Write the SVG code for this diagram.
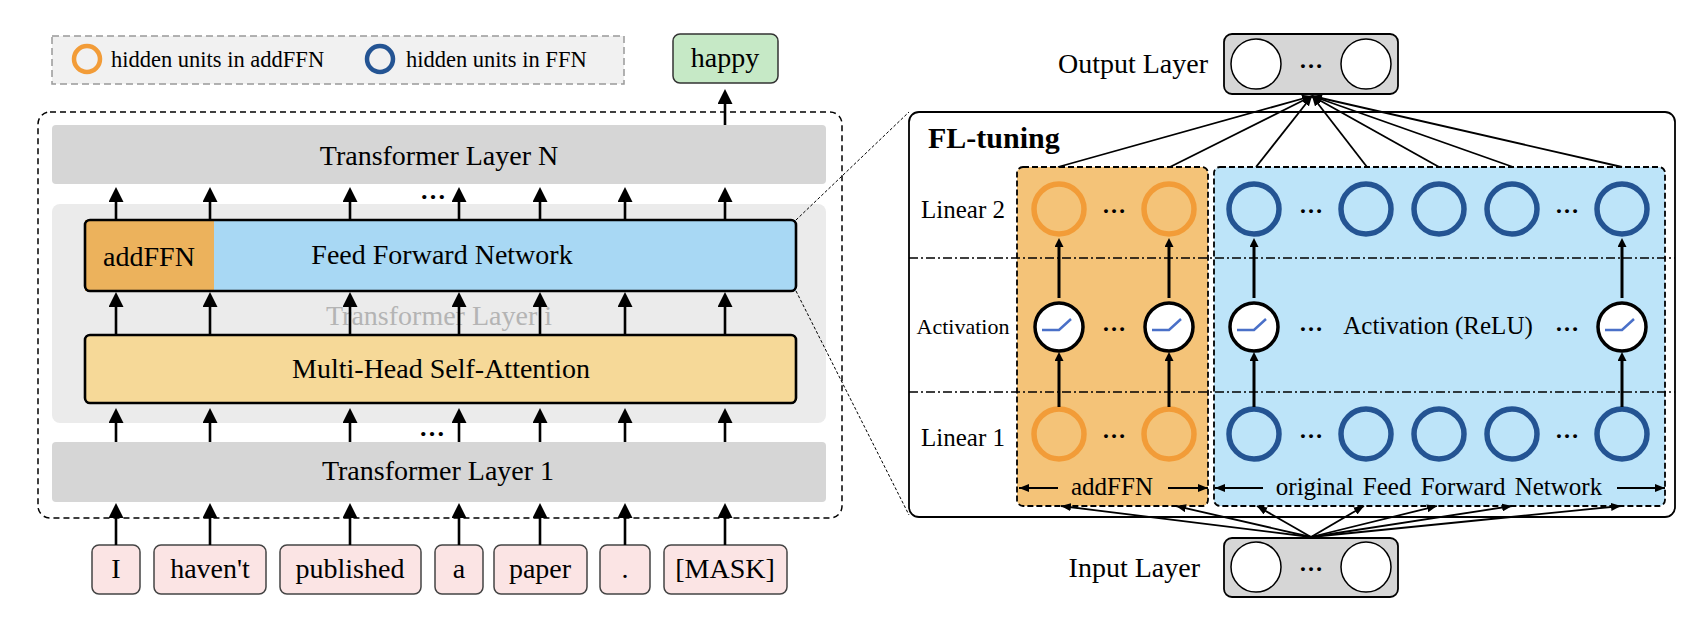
<svg xmlns="http://www.w3.org/2000/svg" width="1704" height="630" viewBox="0 0 1704 630">
<style>
text{font-family:"Liberation Serif","Times New Roman",serif;fill:#000}
.t28{font-size:28px}
.t25{font-size:25px}
.mid{text-anchor:middle}
.big{stroke:#000;stroke-width:2.6;fill:none;marker-end:url(#bigHead)}
.sm{stroke:#000;stroke-width:3;fill:none;marker-end:url(#smHead)}
.fan{stroke:#000;stroke-width:1.8;fill:none;marker-end:url(#fanHead)}
.lay{fill:#d6d6d6}
.tok{fill:#fbe4e4;stroke:#444;stroke-width:1.5}
.ocirc{fill:none;stroke:#f29c38;stroke-width:5.5}
.bcirc{fill:none;stroke:#245493;stroke-width:5.5}
.act{fill:#fff;stroke:#000;stroke-width:3.5}
.relu{fill:none;stroke:#4a70c8;stroke-width:2.5}
.node{fill:#fff;stroke:#000;stroke-width:1.5}
.dots{font-size:24px;font-weight:bold;text-anchor:middle}
.dd{stroke:#000;stroke-width:1.6;stroke-dasharray:9 3 2 3;fill:none}
</style>
<defs>
<marker id="bigHead" viewBox="0 0 15 15" refX="0" refY="7.5" markerWidth="15" markerHeight="15" markerUnits="userSpaceOnUse" orient="auto"><path d="M0,0 L15,7.5 L0,15 Z" fill="#000"/></marker>
<marker id="smHead" viewBox="0 0 9 9" refX="0" refY="4.5" markerWidth="9" markerHeight="9" markerUnits="userSpaceOnUse" orient="auto"><path d="M0,0 L9,4.5 L0,9 Z" fill="#000"/></marker>
<marker id="fanHead" viewBox="0 0 10 8" refX="10" refY="4" markerWidth="10" markerHeight="8" markerUnits="userSpaceOnUse" orient="auto"><path d="M0,0 L10,4 L0,8 Z" fill="#000"/></marker>
</defs>

<g id="legend">
<rect x="52" y="36" width="572" height="48" fill="#f1f1f1" stroke="#999" stroke-width="1.5" stroke-dasharray="7 4"/>
<circle cx="87" cy="59" r="13" fill="none" stroke="#f29c38" stroke-width="4.5"/>
<text x="111" y="67" style="font-size:22.5px">hidden units in addFFN</text>
<circle cx="380" cy="59" r="13" fill="none" stroke="#245493" stroke-width="4.5"/>
<text x="406" y="67" style="font-size:22.5px">hidden units in FFN</text>
</g>

<g id="happy">
<rect x="673" y="34" width="105" height="49" rx="7" fill="#c6e9c6" stroke="#333" stroke-width="1.5"/>
<text class="t28 mid" x="725" y="67">happy</text>
</g>

<g id="stack">
<rect x="38" y="112" width="804" height="406" rx="12" fill="none" stroke="#000" stroke-width="1.5" stroke-dasharray="6 4"/>
</g>
<g id="layerN">
<rect class="lay" x="52" y="125" width="774" height="59" rx="4"/>
<text class="t28 mid" x="439" y="165">Transformer Layer N</text>
</g>
<g id="layerI">
<rect x="52" y="204" width="774" height="219" rx="8" fill="#ebebeb"/>
<text class="t28 mid" x="439" y="325" style="fill:#b4b4b4">Transformer Layer i</text>
</g>
<g id="ffn">
<rect x="85" y="220" width="129" height="71" fill="#ecb25c"/>
<rect x="214" y="220" width="582" height="71" fill="#a8d8f4"/>
<rect x="85" y="220" width="711" height="71" rx="5" fill="none" stroke="#000" stroke-width="2.6"/>
<text class="t28 mid" x="149" y="266">addFFN</text>
<text class="t28 mid" x="442" y="264">Feed Forward Network</text>
</g>
<g id="mhsa">
<rect x="85" y="335" width="711" height="68" rx="5" fill="#f6d998" stroke="#000" stroke-width="2.6"/>
<text class="t28 mid" x="441" y="378">Multi-Head Self-Attention</text>
</g>
<g id="layer1">
<rect class="lay" x="52" y="442" width="774" height="60" rx="4"/>
<text class="t28 mid" x="438" y="480">Transformer Layer 1</text>
</g>

<g id="tokens">
<rect class="tok" x="92" y="545" width="48" height="49" rx="7"/><text class="t28 mid" x="116" y="578">I</text>
<rect class="tok" x="154" y="545" width="112" height="49" rx="7"/><text class="t28 mid" x="210" y="578">haven't</text>
<rect class="tok" x="280" y="545" width="141" height="49" rx="7"/><text class="t28 mid" x="350" y="578">published</text>
<rect class="tok" x="435" y="545" width="48" height="49" rx="7"/><text class="t28 mid" x="459" y="578">a</text>
<rect class="tok" x="494" y="545" width="93" height="49" rx="7"/><text class="t28 mid" x="540" y="578">paper</text>
<rect class="tok" x="600" y="545" width="50" height="49" rx="7"/><text class="t28 mid" x="625" y="578">.</text>
<rect class="tok" x="664" y="545" width="123" height="49" rx="7"/><text class="t28 mid" x="725" y="578">[MASK]</text>
</g>

<g id="connectors-left">
<line class="big" x1="116" y1="545" x2="116" y2="518"/><line class="big" x1="210" y1="545" x2="210" y2="518"/><line class="big" x1="350" y1="545" x2="350" y2="518"/><line class="big" x1="459" y1="545" x2="459" y2="518"/><line class="big" x1="540" y1="545" x2="540" y2="518"/><line class="big" x1="625" y1="545" x2="625" y2="518"/><line class="big" x1="725" y1="545" x2="725" y2="518"/>
<line class="big" x1="116" y1="442" x2="116" y2="423"/><line class="big" x1="210" y1="442" x2="210" y2="423"/><line class="big" x1="350" y1="442" x2="350" y2="423"/><line class="big" x1="459" y1="442" x2="459" y2="423"/><line class="big" x1="540" y1="442" x2="540" y2="423"/><line class="big" x1="625" y1="442" x2="625" y2="423"/><line class="big" x1="725" y1="442" x2="725" y2="423"/>
<line class="big" x1="116" y1="335" x2="116" y2="307"/><line class="big" x1="210" y1="335" x2="210" y2="307"/><line class="big" x1="350" y1="335" x2="350" y2="307"/><line class="big" x1="459" y1="335" x2="459" y2="307"/><line class="big" x1="540" y1="335" x2="540" y2="307"/><line class="big" x1="625" y1="335" x2="625" y2="307"/><line class="big" x1="725" y1="335" x2="725" y2="307"/>
<line class="big" x1="116" y1="219" x2="116" y2="202"/><line class="big" x1="210" y1="219" x2="210" y2="202"/><line class="big" x1="350" y1="219" x2="350" y2="202"/><line class="big" x1="459" y1="219" x2="459" y2="202"/><line class="big" x1="540" y1="219" x2="540" y2="202"/><line class="big" x1="625" y1="219" x2="625" y2="202"/><line class="big" x1="725" y1="219" x2="725" y2="202"/>
<line class="big" x1="725" y1="125" x2="725" y2="104"/>
<text class="dots" x="433" y="199" style="font-size:26px">…</text>
<text class="dots" x="432" y="436" style="font-size:26px">…</text>
<path d="M796,220L909,112M796,291L909,515" stroke="#000" stroke-width="1" stroke-dasharray="3 2" fill="none"/>
</g>

<g id="fl-tuning">
<rect x="909" y="112" width="766" height="405" rx="10" fill="#fff" stroke="#000" stroke-width="1.8"/>
<text x="928" y="148" style="font-size:30px;font-weight:bold">FL-tuning</text>
<text class="t25 mid" x="963" y="218">Linear 2</text>
<text class="mid" x="963" y="334" style="font-size:22px">Activation</text>
<text class="t25 mid" x="963" y="446">Linear 1</text>
</g>
<g id="addffn-region">
<rect x="1017" y="167" width="191" height="339" rx="6" fill="#f4c378" stroke="#000" stroke-width="1.8" stroke-dasharray="6 3"/>
</g>
<g id="ffn-region">
<rect x="1214" y="167" width="451" height="339" rx="6" fill="#bde4f9" stroke="#000" stroke-width="1.8" stroke-dasharray="6 3"/>
</g>
<g id="row-separators">
<path class="dd" d="M909,258H1675M909,392H1675"/>
</g>

<g id="linear2">
<circle class="ocirc" cx="1059" cy="209" r="25"/>
<circle class="ocirc" cx="1169" cy="209" r="25"/>
<circle class="bcirc" cx="1254" cy="209" r="25"/>
<circle class="bcirc" cx="1366" cy="209" r="25"/>
<circle class="bcirc" cx="1439" cy="209" r="25"/>
<circle class="bcirc" cx="1512" cy="209" r="25"/>
<circle class="bcirc" cx="1622" cy="209" r="25"/>
<text class="dots" x="1114" y="213">…</text>
<text class="dots" x="1311" y="213">…</text>
<text class="dots" x="1567" y="213">…</text>
</g>
<g id="activation">
<circle class="act" cx="1059" cy="327" r="24"/><path class="relu" d="M1042,330H1059L1071,319"/>
<circle class="act" cx="1169" cy="327" r="24"/><path class="relu" d="M1152,330H1169L1181,319"/>
<circle class="act" cx="1254" cy="327" r="24"/><path class="relu" d="M1237,330H1254L1266,319"/>
<circle class="act" cx="1622" cy="327" r="24"/><path class="relu" d="M1605,330H1622L1634,319"/>
<text class="dots" x="1114" y="331">…</text>
<text class="dots" x="1311" y="331">…</text>
<text class="dots" x="1567" y="331">…</text>
<text class="t25 mid" x="1438" y="334">Activation (ReLU)</text>
</g>
<g id="linear1">
<circle class="ocirc" cx="1059" cy="434" r="25"/>
<circle class="ocirc" cx="1169" cy="434" r="25"/>
<circle class="bcirc" cx="1254" cy="434" r="25"/>
<circle class="bcirc" cx="1366" cy="434" r="25"/>
<circle class="bcirc" cx="1439" cy="434" r="25"/>
<circle class="bcirc" cx="1512" cy="434" r="25"/>
<circle class="bcirc" cx="1622" cy="434" r="25"/>
<text class="dots" x="1114" y="438">…</text>
<text class="dots" x="1311" y="438">…</text>
<text class="dots" x="1567" y="438">…</text>
</g>
<g id="region-labels">
<text class="t25 mid" x="1112" y="495">addFFN</text>
<text class="t25 mid" x="1439" y="495" style="word-spacing:3px">original Feed Forward Network</text>
</g>

<g id="output-layer">
<text class="t28" x="1208" y="73" style="text-anchor:end">Output Layer</text>
<rect x="1224" y="34" width="174" height="60" rx="8" fill="#d6d6d6" stroke="#000" stroke-width="1.8"/>
<circle class="node" cx="1256" cy="64" r="25"/>
<circle class="node" cx="1366" cy="64" r="25"/>
<text class="dots" x="1311" y="68">…</text>
</g>
<g id="input-layer">
<text class="t28" x="1200" y="577" style="text-anchor:end">Input Layer</text>
<rect x="1224" y="538" width="174" height="59" rx="8" fill="#d6d6d6" stroke="#000" stroke-width="1.8"/>
<circle class="node" cx="1256" cy="567" r="25"/>
<circle class="node" cx="1366" cy="567" r="25"/>
<text class="dots" x="1311" y="571">…</text>
</g>

<g id="connectors-right">
<line class="sm" x1="1059" y1="407" x2="1059" y2="361"/><line class="sm" x1="1169" y1="407" x2="1169" y2="361"/><line class="sm" x1="1254" y1="407" x2="1254" y2="361"/><line class="sm" x1="1622" y1="407" x2="1622" y2="361"/>
<line class="sm" x1="1059" y1="298" x2="1059" y2="247"/><line class="sm" x1="1169" y1="298" x2="1169" y2="247"/><line class="sm" x1="1254" y1="298" x2="1254" y2="247"/><line class="sm" x1="1622" y1="298" x2="1622" y2="247"/>
<line class="fan" x1="1058" y1="167" x2="1312" y2="96"/><line class="fan" x1="1170" y1="167" x2="1312" y2="96"/><line class="fan" x1="1256" y1="167" x2="1312" y2="96"/><line class="fan" x1="1367" y1="167" x2="1312" y2="96"/><line class="fan" x1="1439" y1="167" x2="1312" y2="96"/><line class="fan" x1="1513" y1="167" x2="1312" y2="96"/><line class="fan" x1="1622" y1="167" x2="1312" y2="96"/>
<line class="fan" x1="1311" y1="537" x2="1061" y2="506"/><line class="fan" x1="1311" y1="537" x2="1176" y2="506"/><line class="fan" x1="1311" y1="537" x2="1257" y2="506"/><line class="fan" x1="1311" y1="537" x2="1364" y2="506"/><line class="fan" x1="1311" y1="537" x2="1437" y2="506"/><line class="fan" x1="1311" y1="537" x2="1512" y2="506"/><line class="fan" x1="1311" y1="537" x2="1621" y2="506"/>
<line class="fan" x1="1058" y1="488" x2="1019" y2="488"/><line class="fan" x1="1168" y1="488" x2="1208" y2="488"/><line class="fan" x1="1263" y1="488" x2="1215" y2="488"/><line class="fan" x1="1617" y1="488" x2="1665" y2="488"/>
</g>
</svg>
